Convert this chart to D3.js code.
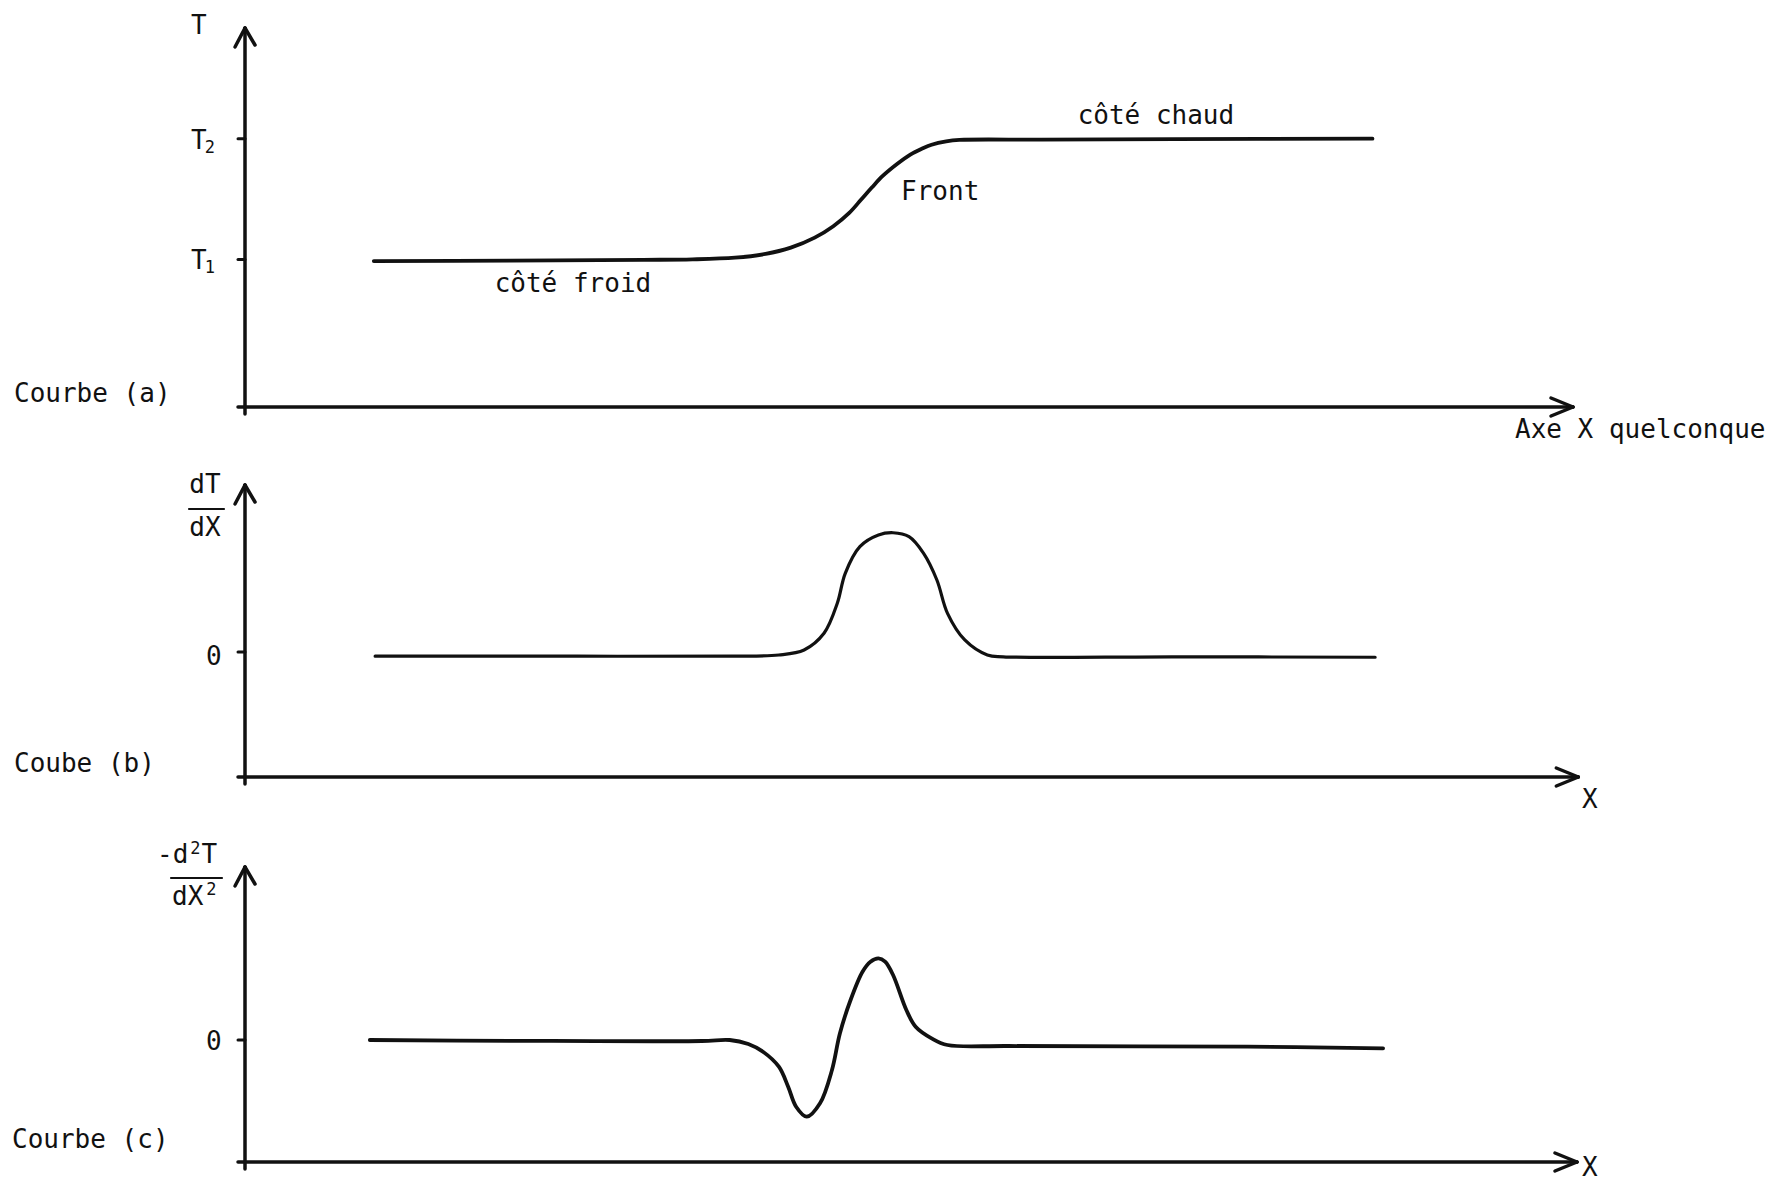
<!DOCTYPE html>
<html>
<head>
<meta charset="utf-8">
<script src="https://cdn.jsdelivr.net/npm/d3@7"></script>
<style>
  html, body { margin: 0; padding: 0; background: #fff; }
  svg { display: block; }
  text { font-family: "DejaVu Sans Mono", "Liberation Mono", monospace; font-size: 26px; fill: #111; }
</style>
</head>
<body>
<svg id="chart" width="1781" height="1185"></svg>
<script>
// Courbe (a): temperature across a front, T1 on the cold side, T2 on the warm side
const curveA_x = [9.7, 20, 30, 33.7, 36.9, 39.2, 41.1, 42.9, 44.3, 45.5, 46.4, 47.2, 48.0, 49.1, 50.1, 51.0, 51.7, 52.8, 53.8, 60, 70, 84.9];
const curveA_T = [0.986, 0.99, 0.996, 1.0, 1.014, 1.045, 1.097, 1.18, 1.275, 1.385, 1.496, 1.595, 1.689, 1.79, 1.868, 1.918, 1.95, 1.978, 1.99, 1.992, 1.996, 2.0];

// Courbe (b): first derivative dT/dX
const curveB_x = [9.8, 25, 36.7, 40.2, 42.1, 43.6, 44.6, 45.2, 46.3, 47.7, 48.8, 50.0, 51.1, 52.1, 52.9, 54.2, 55.9, 57.1, 70, 85.1];
const curveB_v = [-0.035, -0.035, -0.035, -0.025, 0.017, 0.156, 0.406, 0.656, 0.878, 0.975, 0.994, 0.961, 0.822, 0.6, 0.322, 0.1, -0.025, -0.04, -0.04, -0.044];

// Courbe (c): minus the second derivative -d2T/dX2
const curveC_x = [9.4, 20, 34.4, 36.5, 37.9, 39.0, 40.2, 40.9, 41.5, 42.3, 43.3, 44.2, 44.8, 45.6, 46.5, 47.1, 47.7, 48.2, 48.8, 49.8, 50.5, 51.7, 52.9, 57.5, 75.5, 85.7];
const curveC_v = [0.0, -0.01, -0.0125, 0.0, -0.05, -0.146, -0.334, -0.584, -0.834, -0.959, -0.791, -0.375, 0.084, 0.5, 0.854, 0.979, 1.021, 0.979, 0.8125, 0.375, 0.166, 0.021, -0.0625, -0.075, -0.084, -0.104];

// Tick values on each vertical axis
const ticksA = [1, 2];
const ticksB = [0];
const ticksC = [0];

// Text labels
const tickLabelsA = [["T", "1"], ["T", "2"]];
const zeroLabel = "0";
const panelTitles = ["Courbe (a)", "Coube (b)", "Courbe (c)"];
const axisNameA = "T";
const xAxisNames = ["Axe X quelconque", "X", "X"];
const annotationsA = ["côté froid", "Front", "côté chaud"];
const fracB = ["dT", "dX"];

const svg = d3.select("#chart");
const INK = "#111";

// shared horizontal scale (arbitrary X units, 0 at the vertical axis)
const x = d3.scaleLinear().domain([0, 100]).range([245, 1573]);

const panels = [
  { xs: curveA_x, ys: curveA_T, y: d3.scaleLinear().domain([-0.223, 2.917]).range([407, 28]),
    ticks: ticksA, xEnd: 100, sw: 3.8 },
  { xs: curveB_x, ys: curveB_v, y: d3.scaleLinear().domain([-1.042, 1.392]).range([777, 485]),
    ticks: ticksB, xEnd: 100.4, sw: 3.2 },
  { xs: curveC_x, ys: curveC_v, y: d3.scaleLinear().domain([-1.525, 2.1625]).range([1162, 867]),
    ticks: ticksC, xEnd: 100.3, sw: 3.8 }
];

function seg(g, x1, y1, x2, y2, w) {
  g.append("line").attr("x1", x1).attr("y1", y1).attr("x2", x2).attr("y2", y2)
    .attr("stroke", INK).attr("stroke-width", w).attr("stroke-linecap", "round");
}

panels.forEach((p) => {
  const g = svg.append("g");
  const [yMin, yMax] = p.y.domain();
  const x0 = x(0), yBase = p.y(yMin), yTop = p.y(yMax);

  // vertical axis with open arrow head, extending a little below the horizontal axis
  seg(g, x0, yBase + 7, x0, yTop, 3.5);
  seg(g, x0, yTop, x0 - 10, yTop + 19, 3.5);
  seg(g, x0, yTop, x0 + 10, yTop + 17, 3.5);

  // horizontal axis with open arrow head
  const xe = x(p.xEnd);
  seg(g, x0 - 7, yBase, xe, yBase, 3.5);
  seg(g, xe, yBase, xe - 22, yBase - 9, 3.5);
  seg(g, xe, yBase, xe - 22, yBase + 9, 3.5);

  // ticks to the left of the vertical axis
  p.ticks.forEach(t => seg(g, x0 - 7, p.y(t), x0, p.y(t), 3));

  // the curve
  const line = d3.line()
    .x((d, k) => x(p.xs[k]))
    .y(d => p.y(d))
    .curve(d3.curveCatmullRom.alpha(0.5));
  g.append("path").datum(p.ys).attr("d", line)
    .attr("fill", "none").attr("stroke", INK).attr("stroke-width", p.sw)
    .attr("stroke-linejoin", "round").attr("stroke-linecap", "round");
});

// ---- text ----
function label(str, px, py, anchor) {
  return svg.append("text").attr("x", px).attr("y", py)
    .attr("text-anchor", anchor || "start").text(str);
}

// panel (a)
const pa = panels[0];
label(axisNameA, 191, 34);
ticksA.forEach((t, k) => {
  const ty = pa.y(t) + 10;
  const tx = svg.append("text").attr("x", 191).attr("y", ty);
  tx.append("tspan").text(tickLabelsA[k][0]);
  tx.append("tspan").attr("dy", 4).attr("dx", -2).style("font-size", "17px").text(tickLabelsA[k][1]);
});
label(panelTitles[0], 14, 402);
label(xAxisNames[0], 1515, 438);
label(annotationsA[0], x(18.8), pa.y(0.727));
label(annotationsA[1], x(49.4), pa.y(1.488));
label(annotationsA[2], x(62.7), pa.y(2.124));

// panel (b)
const pb = panels[1];
label(fracB[0], 205, 493, "middle");
seg(svg, 189, 509, 224, 509, 2.2);
label(fracB[1], 205, 536, "middle");
label(zeroLabel, 206, pb.y(0) + 13);
label(panelTitles[1], 14, 772);
label(xAxisNames[1], 1582, 808);

// panel (c): -d²T / dX² with raised exponents
const fracTop = svg.append("text").attr("x", 157).attr("y", 863);
fracTop.append("tspan").text("-d");
fracTop.append("tspan").attr("dy", -9).attr("dx", 2).style("font-size", "17px").text("2");
fracTop.append("tspan").attr("dy", 9).attr("dx", 1).text("T");
seg(svg, 171, 878, 222, 878, 2.2);
const fracBot = svg.append("text").attr("x", 172).attr("y", 905);
fracBot.append("tspan").text("dX");
fracBot.append("tspan").attr("dy", -10).attr("dx", 3).style("font-size", "17px").text("2");
const pc = panels[2];
label(zeroLabel, 206, pc.y(0) + 10);
label(panelTitles[2], 12, 1148);
label(xAxisNames[2], 1582, 1176);
</script>
</body>
</html>
